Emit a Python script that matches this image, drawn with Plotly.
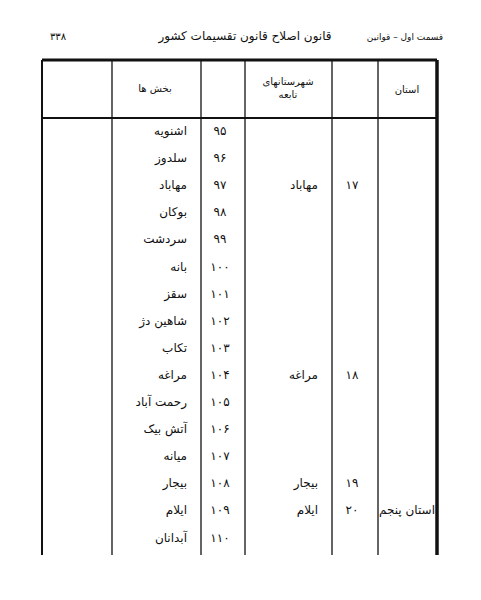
import plotly.graph_objects as go

districts = ["اشنویه","سلدوز","مهاباد","بوکان","سردشت","بانه","سقز","شاهین دژ","تکاب","مراغه","رحمت آباد","آتش بیک","میانه","بیجار","ایلام","آبدانان"]
district_nums = ["۹۵","۹۶","۹۷","۹۸","۹۹","۱۰۰","۱۰۱","۱۰۲","۱۰۳","۱۰۴","۱۰۵","۱۰۶","۱۰۷","۱۰۸","۱۰۹","۱۱۰"]
counties = ["مهاباد","مراغه","بیجار","ایلام"]
county_nums = ["۱۷","۱۸","۱۹","۲۰"]
county_rows = [2, 9, 13, 14]
province = "استان پنجم"
province_row = 14
headers = ["بخش ها", "شهرستانهای<br>تابعه", "استان"]

def ry(i):
    return 132 + i * 27.1

fig = go.Figure()
F = dict(family="DejaVu Sans", color="#111")
fig.add_trace(go.Scatter(x=[187]*len(districts), y=[ry(i) for i in range(len(districts))],
    text=districts, mode="text", textposition="middle left", textfont=dict(size=12, **F)))
fig.add_trace(go.Scatter(x=[220]*len(district_nums), y=[ry(i) for i in range(len(district_nums))],
    text=district_nums, mode="text", textfont=dict(size=12, **F)))
fig.add_trace(go.Scatter(x=[318]*len(counties), y=[ry(i) for i in county_rows],
    text=counties, mode="text", textposition="middle left", textfont=dict(size=12, **F)))
fig.add_trace(go.Scatter(x=[352]*len(county_nums), y=[ry(i) for i in county_rows],
    text=county_nums, mode="text", textfont=dict(size=12, **F)))
fig.add_trace(go.Scatter(x=[407], y=[ry(province_row)], text=[province], mode="text",
    textfont=dict(size=12, **F)))
fig.add_trace(go.Scatter(x=[155, 288, 407], y=[89, 89, 90], text=headers, mode="text",
    textfont=dict(size=10, **F)))
fig.add_trace(go.Scatter(x=[58, 245, 405], y=[37, 37, 38],
    text=["۳۳۸", "قانون اصلاح قانون تقسیمات کشور", "قسمت اول – قوانین"], mode="text",
    textfont=dict(size=[10, 12, 9], **F)))

shapes = []
def line(x0, y0, x1, y1, w=1.5):
    shapes.append(dict(type="line", x0=x0, y0=y0, x1=x1, y1=y1, xref="x", yref="y",
                       line=dict(color="#111", width=w)))
line(42, 60, 437, 60, 3)
line(42, 118, 437, 118, 2)
line(42, 60, 42, 555, 2)
line(437, 60, 437, 555, 3.5)
for x in [112, 201, 245, 332, 378]:
    line(x, 60, x, 555, 1.3)

# offset by the page's default 8px body margin
fig.update_layout(width=481, height=600, margin=dict(l=0, r=0, t=0, b=0),
    paper_bgcolor="white", plot_bgcolor="white", showlegend=False, shapes=shapes,
    xaxis=dict(range=[8, 489], visible=False, fixedrange=True),
    yaxis=dict(range=[608, 8], visible=False, fixedrange=True))
fig.write_html("out.html")
